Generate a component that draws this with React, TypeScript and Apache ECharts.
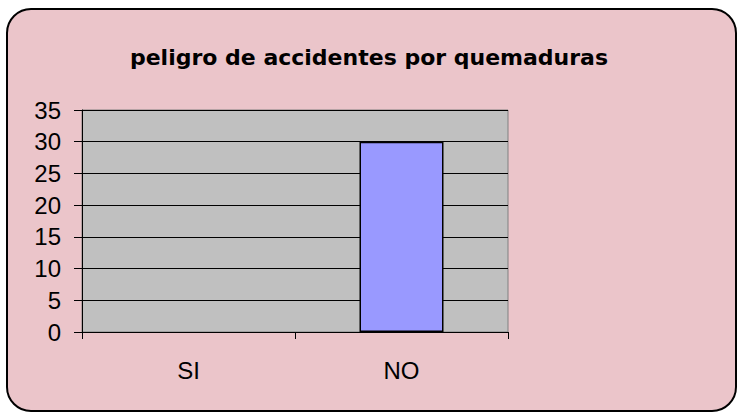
import React, { useEffect, useRef } from "react";
import * as echarts from "echarts";

const title = "peligro de accidentes por quemaduras";
const categories = ["SI", "NO"];
const values = [0, 30];
const yMin = 0;
const yMax = 35;
const yStep = 5;

export default function App() {
  const ref = useRef<HTMLDivElement>(null);
  useEffect(() => {
    if (!ref.current) return;
    const chart = echarts.init(ref.current, null, { renderer: "svg" });
    chart.setOption({
      animation: false,
      backgroundColor: "#ffffff",
      graphic: [
        {
          type: "rect",
          z: -10,
          silent: true,
          shape: { x: 7, y: 9, width: 729, height: 402, r: 24 },
          style: { fill: "#ebc5ca", stroke: "#000000", lineWidth: 2 },
        },
      ],
      title: {
        text: title,
        left: "center",
        top: 41,
        textStyle: {
          fontFamily: "DejaVu Sans",
          fontWeight: "bold",
          fontSize: 22,
          color: "#000000",
        },
      },
      grid: {
        left: 82,
        right: 230,
        top: 110,
        bottom: 82,
        show: true,
        backgroundColor: "#c0c0c0",
        borderColor: "#808080",
        borderWidth: 1,
      },
      xAxis: {
        type: "category",
        data: categories,
        axisLine: { lineStyle: { color: "#000000", width: 1 } },
        axisTick: { show: true, length: 7, lineStyle: { color: "#000000" } },
        axisLabel: {
          color: "#000000",
          fontFamily: "Liberation Sans",
          fontSize: 24,
          margin: 26,
        },
      },
      yAxis: {
        type: "value",
        min: yMin,
        max: yMax,
        interval: yStep,
        axisLine: { show: true, lineStyle: { color: "#000000", width: 1 } },
        axisTick: { show: true, length: 8, lineStyle: { color: "#000000" } },
        axisLabel: {
          color: "#000000",
          fontFamily: "Liberation Sans",
          fontSize: 24,
          margin: 21,
        },
        splitLine: { show: true, lineStyle: { color: "#000000", width: 1 } },
      },
      series: [
        {
          type: "bar",
          data: values.map((v) =>
            v === 0 ? { value: v, itemStyle: { borderWidth: 0 } } : v
          ),
          barWidth: 84,
          itemStyle: { color: "#9999ff", borderColor: "#000000", borderWidth: 1.5 },
        },
      ],
    });
    return () => chart.dispose();
  }, []);
  return (
    <div
      ref={ref}
      style={{ position: "fixed", left: 0, top: 0, width: 738, height: 414 }}
    />
  );
}
